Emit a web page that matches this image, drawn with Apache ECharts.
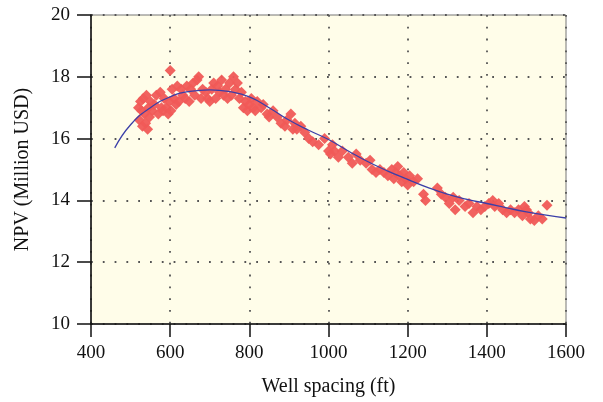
<!DOCTYPE html>
<html><head><meta charset="utf-8">
<script src="https://cdn.jsdelivr.net/npm/echarts@6/dist/echarts.min.js"></script>
<style>html,body{margin:0;padding:0;background:#fff}#c{width:603px;height:402px}</style>
</head><body><div id="c"></div>
<script>
const xTicks = [400, 600, 800, 1000, 1200, 1400, 1600];
const yTicks = [10, 12, 14, 16, 18, 20];
const scatterX = [520,522,525,528,530,532,535,538,540,543,545,548,550,555,560,565,570,575,578,582,585,590,595,598,600,602,605,610,615,618,622,628,632,638,642,648,652,658,662,668,672,678,682,690,695,700,705,710,715,720,725,730,735,740,745,750,755,760,765,770,775,780,785,790,795,800,805,810,815,820,830,835,845,850,860,870,880,890,895,905,910,915,920,930,940,950,960,975,990,1000,1005,1010,1015,1025,1035,1050,1060,1070,1080,1095,1105,1110,1120,1130,1140,1150,1160,1165,1170,1175,1180,1185,1190,1195,1200,1205,1215,1225,1240,1245,1275,1285,1295,1305,1315,1320,1330,1345,1355,1365,1375,1385,1395,1405,1415,1420,1430,1440,1450,1460,1470,1480,1490,1495,1500,1505,1510,1520,1530,1540,1552];
const scatterY = [17.0,16.6,17.2,16.9,16.4,17.3,16.8,16.5,17.4,16.3,17.0,16.7,17.2,16.9,17.1,17.4,16.8,17.5,17.0,16.9,17.3,17.0,16.8,17.2,18.2,16.9,17.6,17.3,17.1,17.7,17.2,17.6,17.4,17.3,17.7,17.2,17.6,17.8,17.4,17.9,18.0,17.3,17.6,17.5,17.3,17.2,17.6,17.8,17.3,17.7,17.5,17.9,17.4,17.6,17.3,17.8,17.4,18.0,17.6,17.8,17.3,17.5,17.0,17.2,16.9,17.1,17.3,17.0,16.9,17.2,17.0,17.1,16.8,16.7,16.9,16.7,16.5,16.4,16.6,16.8,16.3,16.5,16.3,16.4,16.2,16.0,15.9,15.8,16.0,15.6,15.5,15.8,15.6,15.4,15.6,15.4,15.2,15.5,15.3,15.2,15.3,15.0,14.9,15.0,14.9,14.8,15.0,14.7,14.9,15.1,14.8,14.6,14.9,14.7,14.5,14.8,14.6,14.7,14.2,14.0,14.4,14.2,14.1,13.9,14.1,13.7,14.0,13.8,13.9,13.6,13.8,13.7,13.8,13.9,14.0,13.8,13.9,13.7,13.6,13.7,13.6,13.7,13.5,13.8,13.7,13.6,13.4,13.35,13.5,13.4,13.84];
const fitX = [460,500,550,600,650,700,750,800,850,900,950,1000,1050,1100,1150,1200,1250,1300,1350,1400,1450,1500,1550,1600];
const fitY = [15.7,16.45,17.0,17.35,17.53,17.58,17.52,17.35,17.0,16.6,16.27,15.97,15.6,15.25,14.95,14.68,14.42,14.2,14.03,13.9,13.76,13.63,13.52,13.43];

const chart = echarts.init(document.getElementById('c'), null, {renderer:'canvas'});
const font = '"Liberation Serif", "DejaVu Serif", serif';
const gridLine = {show:true, lineStyle:{color:'#555', width:1.8, type:[1.8,10]}};
chart.setOption({
  animation:false,
  backgroundColor:'#ffffff',
  grid:{left:91, right:37, top:15, bottom:77, show:true, backgroundColor:'#FFFDE9', borderColor:'#777', borderWidth:1},
  xAxis:{type:'value', min:xTicks[0], max:xTicks[xTicks.length-1], interval:200,
    name:'Well spacing (ft)', nameLocation:'middle', nameGap:53,
    nameTextStyle:{fontFamily:font, fontSize:20, color:'#111'},
    axisLine:{show:true, onZero:false, lineStyle:{color:'#111', width:1.5}},
    axisTick:{show:true, inside:false, length:13, lineStyle:{color:'#111', width:1.5}},
    axisLabel:{fontFamily:font, fontSize:19, color:'#111', margin:20, formatter:v=>String(v)},
    splitLine:gridLine},
  yAxis:{type:'value', min:yTicks[0], max:yTicks[yTicks.length-1], interval:2,
    name:'NPV (Million USD)', nameLocation:'middle', nameGap:58, nameRotate:90,
    nameTextStyle:{fontFamily:font, fontSize:20, color:'#111'},
    axisLine:{show:true, onZero:false, lineStyle:{color:'#111', width:1.5}},
    axisTick:{show:true, inside:false, length:14, lineStyle:{color:'#111', width:1.5}},
    axisLabel:{fontFamily:font, fontSize:19, color:'#111', margin:21, formatter:v=>String(v)},
    splitLine:gridLine},
  series:[
    {type:'scatter', symbol:'diamond', symbolSize:11, itemStyle:{color:'#F05A57', opacity:0.95},
     data:scatterX.map((x,i)=>[x, scatterY[i]]), z:2},
    {type:'line', smooth:true, symbol:'none', lineStyle:{color:'#3B3FA8', width:1.3},
     data:fitX.map((x,i)=>[x, fitY[i]]), z:3}
  ]
});
</script></body></html>
